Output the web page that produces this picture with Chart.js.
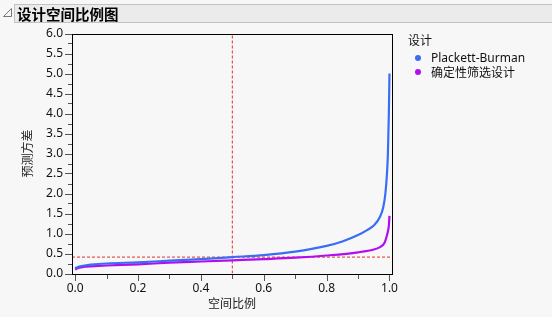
<!DOCTYPE html>
<html>
<head>
<meta charset="utf-8">
<script src="https://cdn.jsdelivr.net/npm/chart.js@4"></script>
<style>
  html, body { margin:0; padding:0; background:#f7f7f7; width:552px; height:317px; overflow:hidden; }
  #wrap { position:relative; width:552px; height:317px; font-family:"Noto Sans","Noto Sans CJK SC",sans-serif; color:#111; }
  #c { position:absolute; left:0; top:0; }
  #bar { position:absolute; left:14px; top:4px; width:540px; height:19px; background:#ebebeb; border:1px solid #c2c2c2; box-sizing:border-box; }
  #bar span { position:absolute; left:2px; top:-2px; font-family:"Noto Sans CJK SC",sans-serif; font-weight:bold; font-size:14.5px; color:#000; white-space:nowrap; }
  #tri { position:absolute; left:3px; top:8px; }
  #legend { position:absolute; left:408px; top:31px; font-family:"Noto Sans","Noto Sans CJK SC",sans-serif; font-size:12px; color:#111; }
  #legend .t { position:absolute; left:0; top:0; white-space:nowrap; font-family:"Noto Sans CJK SC",sans-serif; }
  #legend .it { position:absolute; left:0; white-space:nowrap; }
  #legend .dot { position:absolute; left:7px; width:6px; height:6px; border-radius:50%; }
  #legend .lb { position:absolute; left:23px; top:0; white-space:nowrap; }
</style>
</head>
<body>
<div id="wrap">
  <canvas id="c" width="552" height="317"></canvas>
  <svg id="tri" width="10" height="10"><polygon points="8.5,0.5 8.5,8.5 0.5,8.5" fill="none" stroke="#777" stroke-width="1"/></svg>
  <div id="bar"><span>设计空间比例图</span></div>
  <div id="legend"></div>
</div>
<script>
// ---- data ----
const seriesNames = ["Plackett-Burman", "确定性筛选设计"];
const seriesColors = ["#3a6df5", "#b20cf0"];
const legendTitle = "设计";
const xTitle = "空间比例";
const yTitle = "预测方差";

const pbFraction = [0.00, 0.01, 0.03, 0.05, 0.10, 0.20, 0.30, 0.40, 0.50, 0.60, 0.70, 0.80, 0.85, 0.90, 0.93, 0.95, 0.97, 0.98, 0.987, 0.992, 0.995, 0.998, 1.00];
const pbVariance = [0.13, 0.17, 0.20, 0.22, 0.25, 0.28, 0.32, 0.36, 0.41, 0.46, 0.545, 0.69, 0.80, 0.96, 1.09, 1.20, 1.42, 1.65, 2.00, 2.50, 3.00, 4.00, 5.00];

const dsdFraction = [0.00, 0.01, 0.03, 0.05, 0.10, 0.20, 0.30, 0.40, 0.50, 0.60, 0.70, 0.80, 0.90, 0.95, 0.97, 0.98, 0.985, 0.99, 0.995, 0.998, 1.00];
const dsdVariance = [0.10, 0.14, 0.17, 0.18, 0.20, 0.23, 0.27, 0.30, 0.33, 0.36, 0.395, 0.45, 0.53, 0.60, 0.66, 0.72, 0.78, 0.90, 1.05, 1.20, 1.44];

const refFraction = 0.5;
const refVariance = 0.41;

const xTicks = [0, 0.1, 0.2, 0.3, 0.4, 0.5, 0.6, 0.7, 0.8, 0.9, 1.0];
const xLabelTicks = [0, 0.2, 0.4, 0.6, 0.8, 1.0];
const yTicks = [0,0.25,0.5,0.75,1,1.25,1.5,1.75,2,2.25,2.5,2.75,3,3.25,3.5,3.75,4,4.25,4.5,4.75,5,5.25,5.5,5.75,6];
const yLabelTicks = [0,0.5,1,1.5,2,2.5,3,3.5,4,4.5,5,5.5,6];

// ---- legend (html text) ----
const lg = document.getElementById('legend');
lg.innerHTML = '<div class="t">' + legendTitle + '</div>' + seriesNames.map((n,i) =>
  '<div class="it" style="top:' + (18 + i*14) + 'px"><div class="dot" style="top:6px;background:' + seriesColors[i] + '"></div><div class="lb">' + n + '</div></div>').join('');

const isLabel = (arr, v) => arr.some(a => Math.abs(a - v) < 1e-9);

const frame = {
  id: 'frame',
  afterDraw(chart) {
    const {ctx, chartArea: a, scales} = chart;
    ctx.save();
    ctx.strokeStyle = '#000';
    ctx.lineWidth = 1;
    ctx.strokeRect(Math.round(a.left) + 0.5, Math.round(a.top) + 0.5, Math.round(a.right - a.left), Math.round(a.bottom - a.top));
    ctx.strokeStyle = '#555';
    ctx.beginPath();
    for (const v of xTicks) {
      const px = Math.round(scales.x.getPixelForValue(v)) + 0.5;
      const len = isLabel(xLabelTicks, v) ? 6 : 4;
      ctx.moveTo(px, Math.round(a.bottom) + 1); ctx.lineTo(px, Math.round(a.bottom) + 1 + len);
    }
    for (const v of yTicks) {
      const py = Math.round(scales.y.getPixelForValue(v)) + 0.5;
      const len = isLabel(yLabelTicks, v) ? 7 : 4;
      ctx.moveTo(Math.round(a.left), py); ctx.lineTo(Math.round(a.left) - len, py);
    }
    ctx.stroke();
    ctx.restore();
  }
};

const toPts = (xs, ys) => xs.map((x, i) => ({x, y: ys[i]}));

new Chart(document.getElementById('c'), {
  type: 'scatter',
  data: {
    datasets: [
      { label: seriesNames[0], data: toPts(pbFraction, pbVariance), showLine: true, borderColor: seriesColors[0], backgroundColor: seriesColors[0], borderWidth: 2.2, pointRadius: 0, cubicInterpolationMode: 'monotone' },
      { label: seriesNames[1], data: toPts(dsdFraction, dsdVariance), showLine: true, borderColor: seriesColors[1], backgroundColor: seriesColors[1], borderWidth: 2.2, pointRadius: 0, cubicInterpolationMode: 'monotone' },
      { label: 'refH', data: [{x: -0.01, y: refVariance}, {x: 1.008, y: refVariance}], showLine: true, borderColor: '#e0302a', borderWidth: 1, borderDash: [3, 2], pointRadius: 0 },
      { label: 'refV', data: [{x: refFraction, y: 0}, {x: refFraction, y: 6}], showLine: true, borderColor: '#e0302a', borderWidth: 1, borderDash: [3, 2], pointRadius: 0 }
    ]
  },
  options: {
    responsive: false,
    animation: false,
    layout: { padding: { left: 0, right: 160, top: 33.5, bottom: 0 } },
    plugins: { legend: { display: false }, tooltip: { enabled: false } },
    scales: {
      x: {
        type: 'linear', min: -0.01, max: 1.008,
        afterBuildTicks: s => { s.ticks = xTicks.map(v => ({value: v})); },
        afterFit: s => { s.height = 43.5; },
        grid: { display: false, drawTicks: false },
        border: { display: false },
        ticks: { color: '#111', font: { family: 'Noto Sans', size: 12 }, padding: 8, maxRotation: 0, autoSkip: false,
          callback: v => isLabel(xLabelTicks, v) ? v.toFixed(1) : '' },
        title: { display: true, text: xTitle, color: '#222', font: { family: 'Noto Sans CJK SC', size: 12 }, padding: { top: 0, bottom: 6 } }
      },
      y: {
        type: 'linear', min: 0, max: 6,
        afterBuildTicks: s => { s.ticks = yTicks.map(v => ({value: v})); },
        afterFit: s => { s.width = 72; },
        grid: { display: false, drawTicks: false },
        border: { display: false },
        ticks: { color: '#111', font: { family: 'Noto Sans', size: 12 }, padding: 9, autoSkip: false,
          callback: v => isLabel(yLabelTicks, v) ? v.toFixed(1) : '' },
        title: { display: true, text: yTitle, color: '#222', font: { family: 'Noto Sans CJK SC', size: 12 }, padding: { top: 20, bottom: 0 } }
      }
    }
  },
  plugins: [frame]
});
</script>
</body>
</html>
